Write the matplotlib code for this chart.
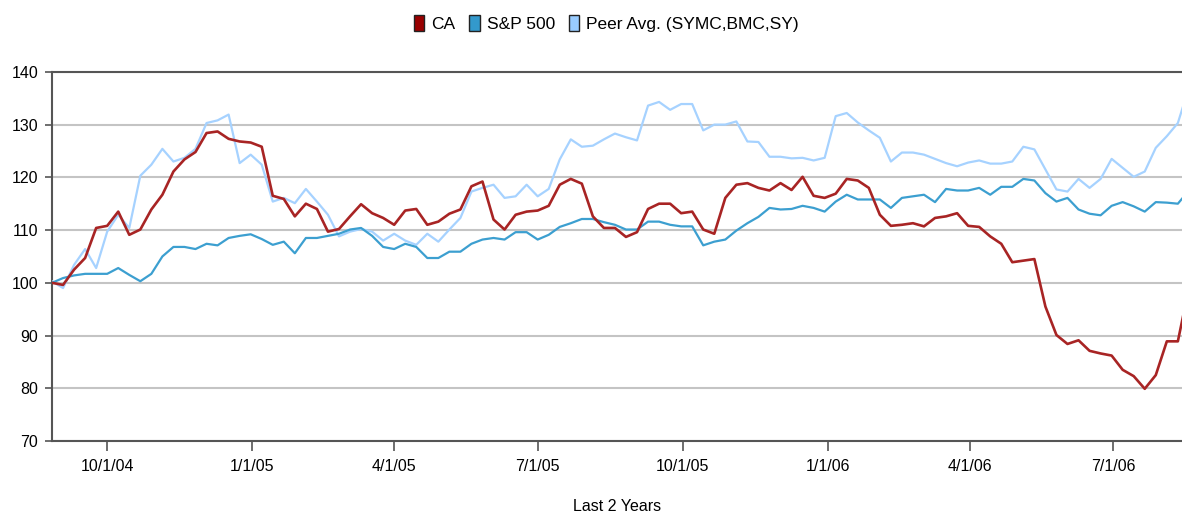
import pandas as pd
import matplotlib.pyplot as plt
from matplotlib.patches import Patch

# weekly closes, indexed to 100 at the start
dates = pd.date_range('2004-08-27', periods=104, freq='7D')

ca = [100, 99.6, 102.5, 104.7, 110.4, 110.8, 113.5, 109.1, 110.1, 113.9,
      116.7, 121.1, 123.4, 124.8, 128.4, 128.7, 127.3, 126.8, 126.6, 125.8,
      116.5, 115.9, 112.6, 115.0, 114.0, 109.7, 110.2, 112.6, 114.9, 113.2,
      112.3, 111.0, 113.7, 114.0, 111.0, 111.6, 113.1, 113.9, 118.3, 119.2,
      112.0, 110.1, 112.9, 113.5, 113.7, 114.6, 118.6, 119.7, 118.8, 112.6,
      110.4, 110.4, 108.7, 109.6, 114.0, 115.0, 115.0, 113.2, 113.5, 110.1,
      109.3, 116.1, 118.6, 118.9, 118.0, 117.5, 118.9, 117.6, 120.1, 116.5,
      116.1, 116.9, 119.7, 119.4, 118.0, 112.9, 110.8, 111.0, 111.3, 110.7,
      112.3, 112.6, 113.2, 110.8, 110.6, 108.8, 107.4, 103.9, 104.2, 104.5,
      95.5, 90.1, 88.4, 89.1, 87.1, 86.6, 86.2, 83.5, 82.3, 79.9,
      82.5, 88.9, 88.9, 99.0]

sp500 = [100, 100.9, 101.4, 101.7, 101.7, 101.7, 102.8, 101.5, 100.3, 101.7,
         105.0, 106.8, 106.8, 106.4, 107.4, 107.1, 108.5, 108.9, 109.2, 108.3,
         107.2, 107.8, 105.6, 108.5, 108.5, 108.9, 109.3, 110.1, 110.4, 108.9,
         106.8, 106.4, 107.4, 106.8, 104.7, 104.7, 105.9, 105.9, 107.4, 108.2,
         108.5, 108.2, 109.6, 109.6, 108.2, 109.1, 110.6, 111.3, 112.1, 112.1,
         111.5, 111.0, 110.1, 110.1, 111.6, 111.6, 111.0, 110.7, 110.7, 107.1,
         107.8, 108.2, 109.9, 111.3, 112.5, 114.2, 113.9, 114.0, 114.6, 114.2,
         113.5, 115.4, 116.7, 115.8, 115.8, 115.8, 114.2, 116.1, 116.4, 116.7,
         115.3, 117.8, 117.5, 117.5, 118.0, 116.7, 118.2, 118.2, 119.7, 119.4,
         117.0, 115.4, 116.1, 113.9, 113.1, 112.8, 114.6, 115.3, 114.5, 113.5,
         115.3, 115.2, 115.0, 117.5]

peer = [100.3, 99.0, 103.4, 106.4, 102.8, 109.7, 112.9, 110.4, 120.3, 122.4,
        125.4, 123.0, 123.7, 125.4, 130.3, 130.8, 131.9, 122.7, 124.3, 122.4,
        115.4, 116.1, 115.1, 117.8, 115.4, 112.9, 108.8, 109.7, 110.2, 109.7,
        108.0, 109.3, 108.0, 107.2, 109.3, 107.8, 110.1, 112.3, 117.3, 118.0,
        118.6, 116.1, 116.4, 118.6, 116.4, 117.8, 123.4, 127.2, 125.8, 126.0,
        127.2, 128.3, 127.6, 127.0, 133.6, 134.3, 132.8, 133.9, 133.9, 128.9,
        130.0, 130.0, 130.6, 126.8, 126.7, 123.9, 123.9, 123.6, 123.7, 123.2,
        123.7, 131.6, 132.2, 130.4, 128.9, 127.5, 123.0, 124.7, 124.7, 124.3,
        123.5, 122.7, 122.1, 122.8, 123.2, 122.6, 122.6, 123.0, 125.8, 125.3,
        121.5, 117.7, 117.3, 119.7, 118.0, 119.7, 123.5, 121.8, 120.1, 121.1,
        125.6, 127.8, 130.3, 137.0]

tick_dates = ['2004-10-01', '2005-01-01', '2005-04-01', '2005-07-01',
              '2005-10-01', '2006-01-01', '2006-04-01', '2006-07-01']
tick_labels = ['10/1/04', '1/1/05', '4/1/05', '7/1/05',
               '10/1/05', '1/1/06', '4/1/06', '7/1/06']

plt.rcParams['font.family'] = ['Liberation Sans Narrow', 'Liberation Sans', 'DejaVu Sans']

fig = plt.figure(figsize=(11.82, 5.17), dpi=100)
ax = fig.add_axes([0.044, 0.147, 0.956, 0.714])

ax.plot(dates, peer, color='#A6D2FF', lw=1.6, zorder=3)
ax.plot(dates, sp500, color='#3C9FD0', lw=1.6, zorder=4)
ax.plot(dates, ca, color='#A82424', lw=1.9, zorder=5)

ax.set_ylim(70, 140)
ax.set_yticks(range(70, 141, 10))
ax.set_xlim(pd.Timestamp('2004-08-27'), pd.Timestamp('2006-08-13 15:00'))
ax.set_xticks(pd.to_datetime(tick_dates))
ax.set_xticklabels(tick_labels)

ax.grid(axis='y', color='#C4C4C4', lw=1.5, zorder=1)
ax.grid(axis='x', visible=False)
for s in ['left', 'bottom', 'top']:
    ax.spines[s].set_color('#555555')
    ax.spines[s].set_linewidth(1.5)
ax.spines['right'].set_visible(False)

ax.tick_params(axis='y', length=5, width=1.2, color='#555555', labelsize=11.5, pad=5)
ax.tick_params(axis='x', length=7, width=1.2, color='#555555', labelsize=11.5, pad=6)
ax.set_xlabel('Last 2 Years', fontsize=11.5, labelpad=18)

handles = [Patch(facecolor='#990000', edgecolor='#222222', label='CA'),
           Patch(facecolor='#3399CC', edgecolor='#222222', label='S&P 500'),
           Patch(facecolor='#99CCFF', edgecolor='#222222', label='Peer Avg. (SYMC,BMC,SY)')]
fig.legend(handles=handles, loc='center', bbox_to_anchor=(0.513, 0.955), ncol=3,
           frameon=False, fontsize=12.5, handlelength=0.6, handleheight=1.1,
           handletextpad=0.4, columnspacing=0.8)

plt.savefig('out.png', dpi=100)
plt.close()
